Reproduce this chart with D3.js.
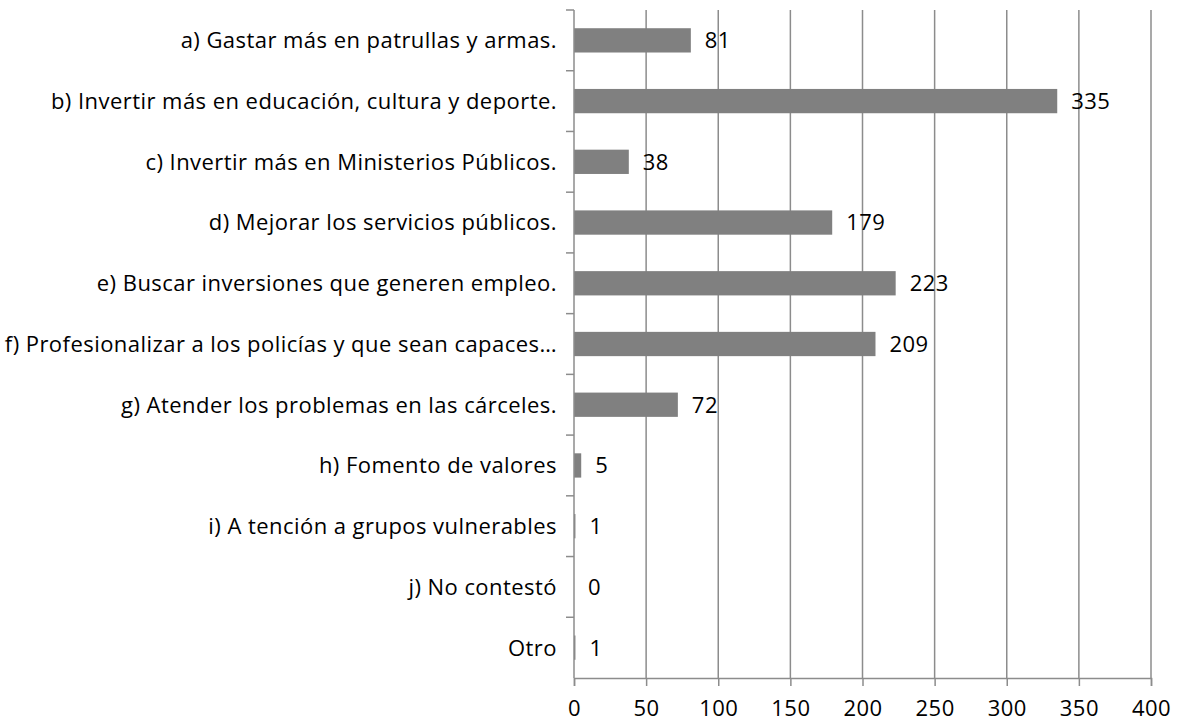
<!DOCTYPE html>
<html>
<head>
<meta charset="utf-8">
<script src="https://cdn.jsdelivr.net/npm/d3@7"></script>
<style>
  html, body { margin: 0; padding: 0; background: #fff; }
  svg { display: block; }
  text { font-family: "Open Sans", sans-serif; fill: #000; letter-spacing: 0.45px; }
</style>
</head>
<body>
<svg id="chart" width="1179" height="724"></svg>
<script>
// Survey answers and their counts
const categories = [
  "a) Gastar más en patrullas y armas.",
  "b) Invertir más en educación, cultura y deporte.",
  "c) Invertir más en Ministerios Públicos.",
  "d) Mejorar los servicios públicos.",
  "e) Buscar inversiones que generen empleo.",
  "f) Profesionalizar a los policías y que sean capaces…",
  "g) Atender los problemas en las cárceles.",
  "h) Fomento de valores",
  "i) A tención a grupos vulnerables",
  "j) No contestó",
  "Otro"
];
const values = [81, 335, 38, 179, 223, 209, 72, 5, 1, 0, 1];
const xTicks = [0, 50, 100, 150, 200, 250, 300, 350, 400];

const svg = d3.select("#chart");
const plotLeft = 574, plotRight = 1151, plotTop = 10, plotBottom = 678;

const x = d3.scaleLinear().domain([0, 400]).range([plotLeft, plotRight]);
const y = d3.scaleBand().domain(categories).range([plotTop, plotBottom]).paddingInner(0.6).paddingOuter(0.3);
const band = d3.scaleBand().domain(categories).range([plotTop, plotBottom]);

const gridColor = "#8c8c8c";
const font = "'Open Sans', sans-serif";
const fontSize = 22;

// vertical gridlines
svg.append("g")
  .selectAll("line")
  .data(xTicks.slice(1))
  .join("line")
  .attr("x1", d => x(d)).attr("x2", d => x(d))
  .attr("y1", plotTop).attr("y2", plotBottom)
  .attr("stroke", gridColor).attr("stroke-width", 1.5);

// bars
svg.append("g")
  .selectAll("rect")
  .data(values)
  .join("rect")
  .attr("x", x(0))
  .attr("y", (d, i) => y(categories[i]))
  .attr("width", d => x(d) - x(0))
  .attr("height", y.bandwidth())
  .attr("fill", "#808080");

// value labels
svg.append("g")
  .selectAll("text")
  .data(values)
  .join("text")
  .attr("x", d => x(d) + 14)
  .attr("y", (d, i) => band(categories[i]) + band.bandwidth() / 2)
  .attr("dy", "0.36em")
  .attr("font-size", fontSize)
  .text(d => d);

// x axis
const xAxis = d3.axisBottom(x).tickValues(xTicks).tickSize(8).tickPadding(14);
const gx = svg.append("g").attr("transform", `translate(0,${plotBottom})`).call(xAxis);
gx.select(".domain").attr("stroke", gridColor).attr("stroke-width", 1.5);
gx.selectAll(".tick line").attr("stroke", gridColor).attr("stroke-width", 1.5);
gx.selectAll(".tick text").attr("font-size", fontSize).attr("font-family", font).attr("fill", "#000");

// y axis with ticks at category boundaries
svg.append("line")
  .attr("x1", plotLeft).attr("x2", plotLeft).attr("y1", plotTop).attr("y2", plotBottom)
  .attr("stroke", gridColor).attr("stroke-width", 1.5);
const bounds = categories.map(c => band(c));
svg.append("g")
  .selectAll("line")
  .data(bounds)
  .join("line")
  .attr("x1", plotLeft - 8).attr("x2", plotLeft)
  .attr("y1", d => d).attr("y2", d => d)
  .attr("stroke", gridColor).attr("stroke-width", 1.5);

// category labels
svg.append("g")
  .selectAll("text")
  .data(categories)
  .join("text")
  .attr("x", plotLeft - 17)
  .attr("y", d => band(d) + band.bandwidth() / 2)
  .attr("dy", "0.36em")
  .attr("text-anchor", "end")
  .attr("font-size", fontSize)
  .text(d => d);
</script>
</body>
</html>
